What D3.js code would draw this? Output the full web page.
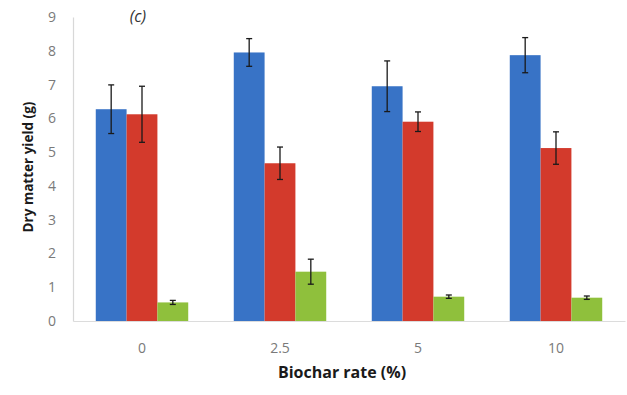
<!DOCTYPE html>
<html>
<head>
<meta charset="utf-8">
<script src="https://cdn.jsdelivr.net/npm/d3@7"></script>
<style>
  body { margin: 0; background: #fff; }
  text { font-family: "Open Sans", "Liberation Sans", sans-serif; }
</style>
</head>
<body>
<div id="chart"></div>
<script>
// biochar rates on the x axis
const rates = ["0", "2.5", "5", "10"]
const seriesNames = ["blue", "red", "green"]
// bar heights
const blueValues = [6.27, 7.95, 6.95, 7.87]
const redValues = [6.12, 4.67, 5.90, 5.12]
const greenValues = [0.55, 1.46, 0.72, 0.69]
// half length of the error bars
const blueErr = [0.72, 0.41, 0.75, 0.52]
const redErr = [0.83, 0.48, 0.29, 0.48]
const greenErr = [0.06, 0.37, 0.05, 0.05]
const yTicks = [0, 1, 2, 3, 4, 5, 6, 7, 8, 9]

const colors = {blue: "#3873c6", red: "#d33a2c", green: "#8fc03c"}

const W = 627, H = 395
const margin = {top: 17, right: 2, bottom: 74, left: 73}
const width = W - margin.left - margin.right,
      height = H - margin.top - margin.bottom

const svg = d3.select("#chart").append("svg")
    .attr("width", W)
    .attr("height", H)
  .append("g")
    .attr("transform", "translate(" + margin.left + "," + margin.top + ")")

const data = rates.map((r, i) => ({
  rate: r,
  bars: [
    {key: "blue", value: blueValues[i], err: blueErr[i]},
    {key: "red", value: redValues[i], err: redErr[i]},
    {key: "green", value: greenValues[i], err: greenErr[i]}
  ]
}))

const x0 = d3.scaleBand().domain(rates).range([0, width]).paddingInner(0.33).paddingOuter(0.165)
const x1 = d3.scaleBand().domain(seriesNames).range([0, x0.bandwidth()])
const y = d3.scaleLinear().domain([0, 9]).range([height, 0])

// y axis
const yAxis = svg.append("g")
  .call(d3.axisLeft(y).tickValues(yTicks).tickSize(0).tickPadding(17))
yAxis.select(".domain").attr("stroke", "#d8d8d8").attr("stroke-width", 1.2)
yAxis.selectAll("text").attr("fill", "#7a7a7a").style("font-size", "14px")

// x axis
const xAxis = svg.append("g")
  .attr("transform", "translate(0," + height + ")")
  .call(d3.axisBottom(x0).tickSize(0).tickPadding(22))
xAxis.select(".domain").attr("stroke", "#dcdcdc").attr("stroke-width", 1.2)
xAxis.selectAll("text").attr("fill", "#7a7a7a").style("font-size", "14px")

// bars
const groups = svg.selectAll(".grp")
  .data(data)
  .enter().append("g")
    .attr("transform", d => "translate(" + x0(d.rate) + ",0)")

groups.selectAll("rect")
  .data(d => d.bars)
  .enter().append("rect")
    .attr("x", d => x1(d.key))
    .attr("y", d => y(d.value))
    .attr("width", x1.bandwidth())
    .attr("height", d => height - y(d.value))
    .attr("fill", d => colors[d.key])

// error bars
const cap = 3
const eb = groups.selectAll(".err")
  .data(d => d.bars)
  .enter().append("g")
    .attr("stroke", "#1a1a1a")
    .attr("stroke-width", 1.3)
eb.append("line")
  .attr("x1", d => x1(d.key) + x1.bandwidth() / 2)
  .attr("x2", d => x1(d.key) + x1.bandwidth() / 2)
  .attr("y1", d => y(d.value + d.err))
  .attr("y2", d => y(d.value - d.err))
eb.append("line")
  .attr("x1", d => x1(d.key) + x1.bandwidth() / 2 - cap)
  .attr("x2", d => x1(d.key) + x1.bandwidth() / 2 + cap)
  .attr("y1", d => y(d.value + d.err))
  .attr("y2", d => y(d.value + d.err))
eb.append("line")
  .attr("x1", d => x1(d.key) + x1.bandwidth() / 2 - cap)
  .attr("x2", d => x1(d.key) + x1.bandwidth() / 2 + cap)
  .attr("y1", d => y(d.value - d.err))
  .attr("y2", d => y(d.value - d.err))

// axis titles
svg.append("text")
  .attr("x", 342 - margin.left)
  .attr("y", height + 57)
  .attr("text-anchor", "middle")
  .style("font-size", "16px")
  .style("font-weight", "bold")
  .attr("fill", "#1a1a1a")
  .text("Biochar rate (%)")

svg.append("text")
  .attr("transform", "translate(" + (33 - margin.left) + "," + (167 - margin.top) + ") rotate(-90)")
  .attr("text-anchor", "middle")
  .style("font-size", "13.5px")
  .style("font-weight", "bold")
  .attr("fill", "#1a1a1a")
  .text("Dry matter yield (g)")

// panel label
svg.append("text")
  .attr("x", 138 - margin.left)
  .attr("y", 22 - margin.top)
  .attr("text-anchor", "middle")
  .style("font-size", "16px")
  .style("font-style", "italic")
  .attr("fill", "#333")
  .text("(c)")
</script>
</body>
</html>
